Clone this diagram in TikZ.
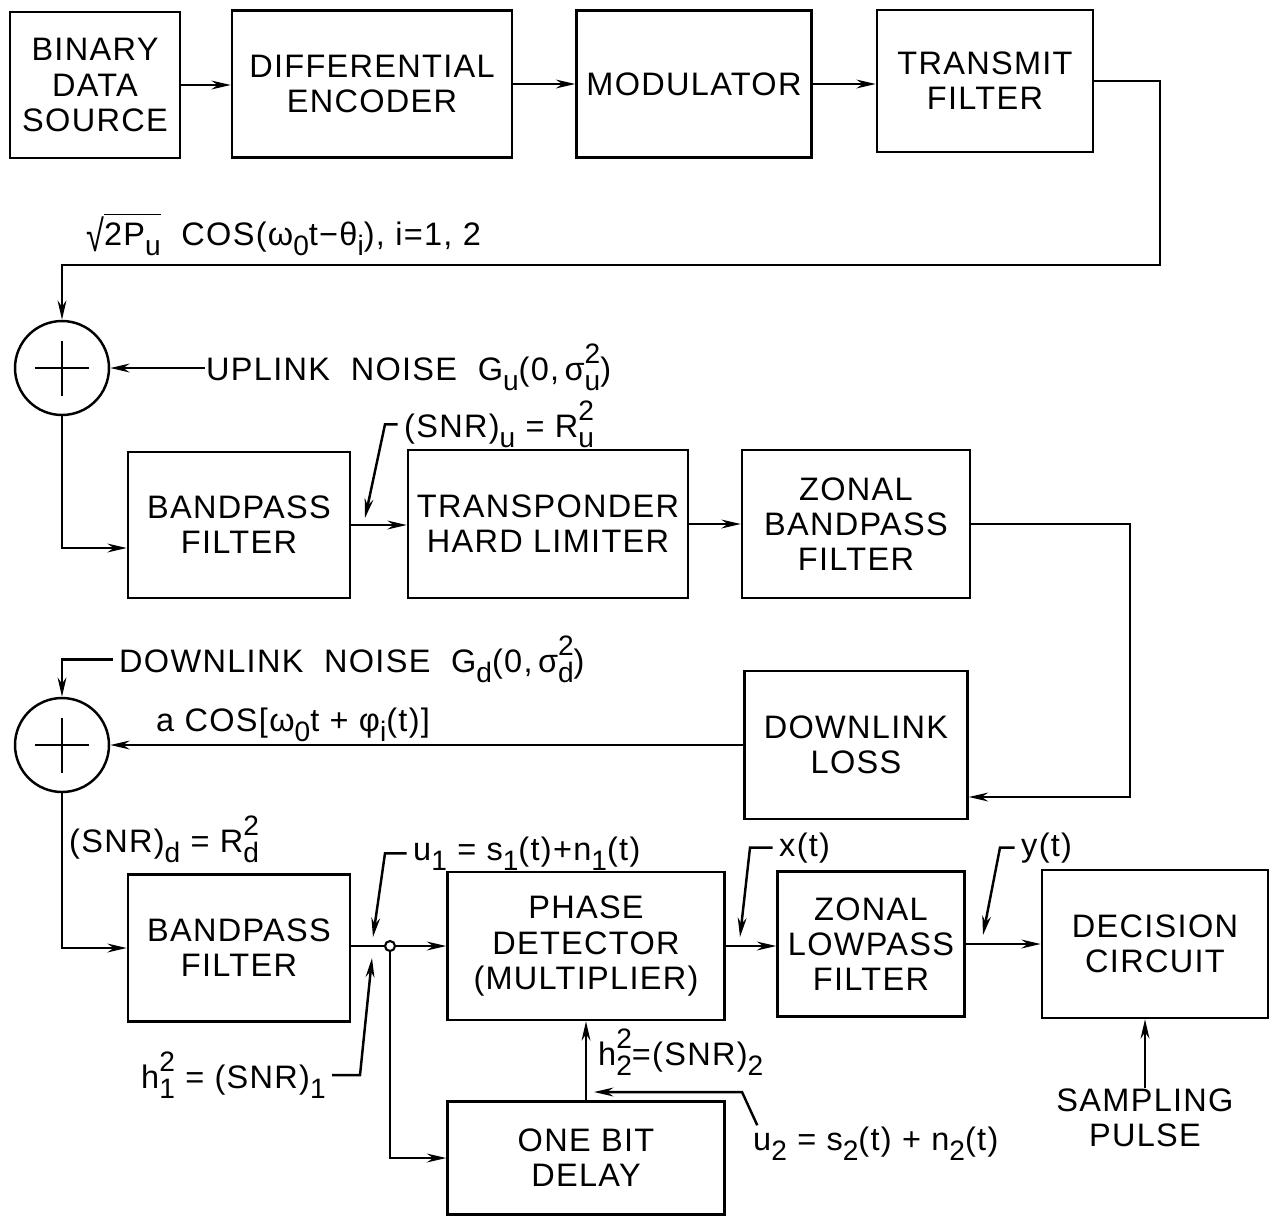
\documentclass[tikz,border=0pt]{standalone}
\usepackage{fontspec}
\setmainfont[LetterSpace=4]{Liberation Sans}
\usetikzlibrary{arrows.meta}
\newcommand{\subtx}[1]{\raisebox{-0.6ex}{\fontsize{16}{16}\selectfont #1}}
\newcommand{\suptx}[1]{\raisebox{0.95ex}{\fontsize{16}{16}\selectfont #1}}
\newcommand{\subsup}[2]{\rlap{\suptx{#2}}\subtx{#1}}
\newsavebox{\sqrtcontent}
\newcommand{\rootx}[1]{\sbox{\sqrtcontent}{#1}\raisebox{-0.2em}{\scalebox{1}[1.35]{√}}\rlap{\rule[0.92em]{\wd\sqrtcontent}{0.9pt}}\usebox{\sqrtcontent}}

\begin{document}
\begin{tikzpicture}[x=0.02cm, y=-0.02cm,
    line width=1.4pt,
    every node/.style={font=\fontsize{18.5}{20}\selectfont},
    block/.style 2 args={draw, align=center, inner sep=0pt, minimum width=#1, minimum height=#2},
    adder/.style={circle, draw, minimum size=1.88cm, inner sep=0pt,
      path picture={\draw ([xshift=-0.55cm]path picture bounding box.center) -- ([xshift=0.55cm]path picture bounding box.center)
        ([yshift=-0.55cm]path picture bounding box.center) -- ([yshift=0.55cm]path picture bounding box.center);}},
    junct/.style={circle, draw, minimum size=0.2cm, inner sep=0pt, line width=1.2pt},
    lbl/.style={anchor=base west, inner sep=0pt},
    sig/.style={-{Stealth[length=11pt, width=5pt]}},
]
    \useasboundingbox (0,0) rectangle (1270,1218);

    % Transmitter chain
    \node (src) [block={3.4cm}{2.92cm}] at (95,85) {BINARY\\DATA\\SOURCE};
    \node (enc) [block={5.6cm}{2.94cm}] at (372,84) {DIFFERENTIAL\\ENCODER};
    \node (mod) [block={4.7cm}{2.94cm}] at (694,84) {MODULATOR};
    \node (txf) [block={4.32cm}{2.84cm}] at (985,81) {TRANSMIT\\FILTER};

    % Uplink and transponder
    \node (add1) [adder] at (62,368) {};
    \node (bpf1) [block={4.44cm}{2.92cm}] at (239,525) {BANDPASS\\FILTER};
    \node (lim) [block={5.6cm}{2.96cm}] at (548,524) {TRANSPONDER\\HARD LIMITER};
    \node (zbpf) [block={4.56cm}{2.96cm}] at (856,524) {ZONAL\\BANDPASS\\FILTER};

    % Downlink
    \node (loss) [block={4.46cm}{2.96cm}] at (856,745) {DOWNLINK\\LOSS};
    \node (add2) [adder] at (62,745) {};

    % Receiver
    \node (bpf2) [block={4.44cm}{2.94cm}] at (239,948) {BANDPASS\\FILTER};
    \node (jn) [junct] at (390,946) {};
    \node (pd) [block={5.54cm}{2.96cm}] at (586,946) {PHASE\\DETECTOR\\(MULTIPLIER)};
    \node (zlpf) [block={3.74cm}{2.9cm}] at (871,944) {ZONAL\\LOWPASS\\FILTER};
    \node (dec) [block={4.52cm}{2.96cm}] at (1155,944) {DECISION\\CIRCUIT};
    \node (delay) [block={5.54cm}{2.26cm}] at (586,1158) {ONE BIT\\DELAY};

    % Labels
    \node (sigl) [lbl] at (85,245) {\rootx{2P\subtx{u}}\ \ COS(ω\subtx{0}t−θ\subtx{i}), i=1, 2};
    \node (upl) [lbl] at (205,380) {UPLINK\ \ NOISE\ \ G\subtx{u}(0,\,σ\subsup{u}{2})};
    \node (snru) [lbl] at (403,437) {(SNR)\subtx{u} = R\subsup{u}{2}};
    \node (dnl) [lbl] at (118,672) {DOWNLINK\ \ NOISE\ \ G\subtx{d}(0,\,σ\subsup{d}{2})};
    \node (carr) [lbl] at (155,731) {a COS[ω\subtx{0}t + φ\subtx{i}(t)]};
    \node (snrd) [lbl] at (68,852) {(SNR)\subtx{d} = R\subsup{d}{2}};
    \node (u1l) [lbl] at (412,860) {u\subtx{1} = s\subtx{1}(t)+n\subtx{1}(t)};
    \node (h1l) [lbl] at (140,1088) {h\subsup{1}{2} = (SNR)\subtx{1}};
    \node (h2l) [lbl] at (597,1065) {h\subsup{2}{2}=(SNR)\subtx{2}};
    \node (u2l) [lbl] at (752,1150) {u\subtx{2} = s\subtx{2}(t) + n\subtx{2}(t)};
    \node (xl) [lbl] at (778,856) {x(t)};
    \node (yl) [lbl] at (1020,856) {y(t)};
    \node (samp) [align=center, inner sep=0pt] at (1145,1118) {SAMPLING\\PULSE};

    % Corner points
    \coordinate (txr) at (1160,265);
    \coordinate (zr) at (1130,650);
    \coordinate (snruk) at (385,0);
    \coordinate (snrue) at (365,518);
    \coordinate (u1k) at (385,0);
    \coordinate (u1e) at (373,937);
    \coordinate (h1k) at (360,0);
    \coordinate (h1e) at (372,958);
    \coordinate (u2k) at (742,1092);
    \coordinate (u2e) at (594,1092);
    \coordinate (xk) at (750,0);
    \coordinate (xe) at (740,937);
    \coordinate (yk) at (1000,0);
    \coordinate (ye) at (983,935);

    % Signal path
    \draw[sig] (src.east) -- (src.east -| enc.west);
    \draw[sig] (enc.east) -- (mod.west);
    \draw[sig] (mod.east) -- (mod.east -| txf.west);
    \draw[sig] (txf.east) -| (txr) -| (add1.north);
    \draw[sig] (add1.east -| upl.west) -- (add1.east);
    \draw[sig] (add1.south) |- ([yshift=-0.46cm]bpf1.west);
    \draw[sig] (bpf1.east) -- (bpf1.east -| lim.west);
    \draw[sig] (lim.east) -- (zbpf.west);
    \draw[sig] (zbpf.east) -| (zr) |- ([yshift=-1.04cm]loss.east);
    \draw[sig] (loss.west) -- (add2.east);
    \draw[sig] ([xshift=-3pt]dnl.west) -| (add2.north);
    \draw[sig] (add2.south) |- (add2.south |- bpf2.west) -- (bpf2.west);
    \draw (bpf2.east |- jn.west) -- (jn.west);
    \draw[sig] (jn.east) -- (pd.west);
    \draw[sig] (jn.south) |- (delay.west);
    \draw[sig] (delay.north) -- (pd.south);
    \draw[sig] (pd.east) -- (pd.east -| zlpf.west);
    \draw[sig] (zlpf.east) -- (zlpf.east -| dec.west);
    \draw[sig] (samp.north) -- (samp.north |- dec.south);

    % Label leaders
    \draw[sig] ([xshift=-3pt]snru.west) -- (snru.west -| snruk) -- (snrue);
    \draw[sig] ([xshift=-3pt]u1l.west) -- (u1l.west -| u1k) -- (u1e);
    \draw[sig] ([xshift=3pt]h1l.east) -- (h1l.east -| h1k) -- (h1e);
    \draw[sig] ([xshift=3pt]u2l.north west) -- (u2k) -- (u2e);
    \draw[sig] ([xshift=-3pt]xl.west) -- (xl.west -| xk) -- (xe);
    \draw[sig] ([xshift=-3pt]yl.west) -- (yl.west -| yk) -- (ye);
\end{tikzpicture}
\end{document}
